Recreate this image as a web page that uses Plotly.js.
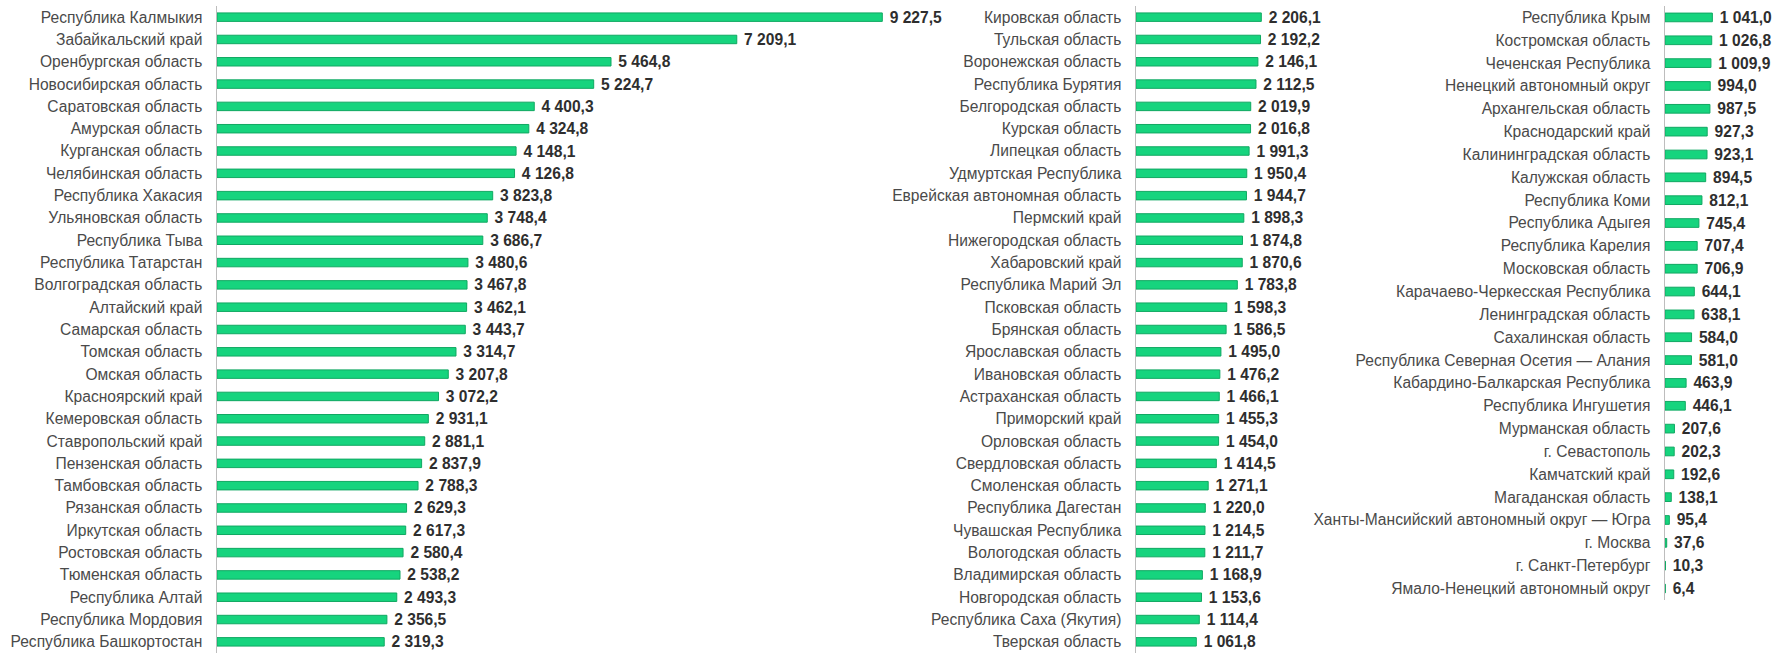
<!DOCTYPE html>
<html>
<head>
<meta charset="utf-8">
<script src="https://cdn.plot.ly/plotly-3.0.1.min.js"></script>
<style>html,body{margin:0;padding:0;background:#fff;}#chart{width:1775px;height:653px;}</style>
</head>
<body>
<div id="chart"></div>
<script>
const regions1 = ["Республика Калмыкия","Забайкальский край","Оренбургская область","Новосибирская область","Саратовская область","Амурская область","Курганская область","Челябинская область","Республика Хакасия","Ульяновская область","Республика Тыва","Республика Татарстан","Волгоградская область","Алтайский край","Самарская область","Томская область","Омская область","Красноярский край","Кемеровская область","Ставропольский край","Пензенская область","Тамбовская область","Рязанская область","Иркутская область","Ростовская область","Тюменская область","Республика Алтай","Республика Мордовия","Республика Башкортостан"];
const values1 = [9227.5,7209.1,5464.8,5224.7,4400.3,4324.8,4148.1,4126.8,3823.8,3748.4,3686.7,3480.6,3467.8,3462.1,3443.7,3314.7,3207.8,3072.2,2931.1,2881.1,2837.9,2788.3,2629.3,2617.3,2580.4,2538.2,2493.3,2356.5,2319.3];

const regions2 = ["Кировская область","Тульская область","Воронежская область","Республика Бурятия","Белгородская область","Курская область","Липецкая область","Удмуртская Республика","Еврейская автономная область","Пермский край","Нижегородская область","Хабаровский край","Республика Марий Эл","Псковская область","Брянская область","Ярославская область","Ивановская область","Астраханская область","Приморский край","Орловская область","Свердловская область","Смоленская область","Республика Дагестан","Чувашская Республика","Вологодская область","Владимирская область","Новгородская область","Республика Саха (Якутия)","Тверская область"];
const values2 = [2206.1,2192.2,2146.1,2112.5,2019.9,2016.8,1991.3,1950.4,1944.7,1898.3,1874.8,1870.6,1783.8,1598.3,1586.5,1495.0,1476.2,1466.1,1455.3,1454.0,1414.5,1271.1,1220.0,1214.5,1211.7,1168.9,1153.6,1114.4,1061.8];

const regions3 = ["Республика Крым","Костромская область","Чеченская Республика","Ненецкий автономный округ","Архангельская область","Краснодарский край","Калининградская область","Калужская область","Республика Коми","Республика Адыгея","Республика Карелия","Московская область","Карачаево-Черкесская Республика","Ленинградская область","Сахалинская область","Республика Северная Осетия — Алания","Кабардино-Балкарская Республика","Республика Ингушетия","Мурманская область","г. Севастополь","Камчатский край","Магаданская область","Ханты-Мансийский автономный округ — Югра","г. Москва","г. Санкт-Петербург","Ямало-Ненецкий автономный округ"];
const values3 = [1041.0,1026.8,1009.9,994.0,987.5,927.3,923.1,894.5,812.1,745.4,707.4,706.9,644.1,638.1,584.0,581.0,463.9,446.1,207.6,202.3,192.6,138.1,95.4,37.6,10.3,6.4];

const FONT = "Liberation Sans, Arial, sans-serif";
const W = 1775;

function barTrace(cats, vals, xa, ya) {
  return {
    type: "bar", orientation: "h",
    y: cats, x: vals, xaxis: xa, yaxis: ya,
    marker: {color: "#16d47e", line: {color: "#10a862", width: 1}},
    texttemplate: "\u00a0%{x:,.1f}",
    textposition: "outside",
    constraintext: "none",
    cliponaxis: false,
    textfont: {family: FONT, size: 15.6, color: "#2e2e2e", weight: "bold"},
    hoverinfo: "skip"
  };
}

const yBase = {
  type: "category", autorange: "reversed",
  showline: true, linecolor: "#bdbdbd", linewidth: 1.5,
  ticks: "outside", ticklen: 10, tickcolor: "rgba(0,0,0,0)",
  tickfont: {family: FONT, size: 15.6, color: "#4a4a4a"},
  showgrid: false, zeroline: false, fixedrange: true
};
const xBase = {visible: false, showgrid: false, zeroline: false, fixedrange: true};

const layout = {
  width: W, height: 653,
  margin: {l: 0, r: 0, t: 6, b: 0, pad: 0},
  paper_bgcolor: "#ffffff", plot_bgcolor: "#ffffff",
  showlegend: false,
  bargap: 0.62,
  separators: ", ",
  xaxis:  Object.assign({}, xBase, {domain: [217/W, (217 + 10000*0.0721)/W], range: [0, 10000], anchor: "y"}),
  yaxis:  Object.assign({}, yBase, {domain: [0, 1], anchor: "x"}),
  xaxis2: Object.assign({}, xBase, {domain: [1136/W, (1136 + 3500*0.0568)/W], range: [0, 3500], anchor: "y2"}),
  yaxis2: Object.assign({}, yBase, {domain: [0, 1], anchor: "x2"}),
  xaxis3: Object.assign({}, xBase, {domain: [1665/W, (1665 + 2000*0.0455)/W], range: [0, 2000], anchor: "y3"}),
  yaxis3: Object.assign({}, yBase, {domain: [0.082, 1], anchor: "x3"})
};

Plotly.newPlot("chart", [
  barTrace(regions1, values1, "x", "y"),
  barTrace(regions2, values2, "x2", "y2"),
  barTrace(regions3, values3, "x3", "y3")
], layout, {displayModeBar: false, staticPlot: true});
</script>
</body>
</html>
